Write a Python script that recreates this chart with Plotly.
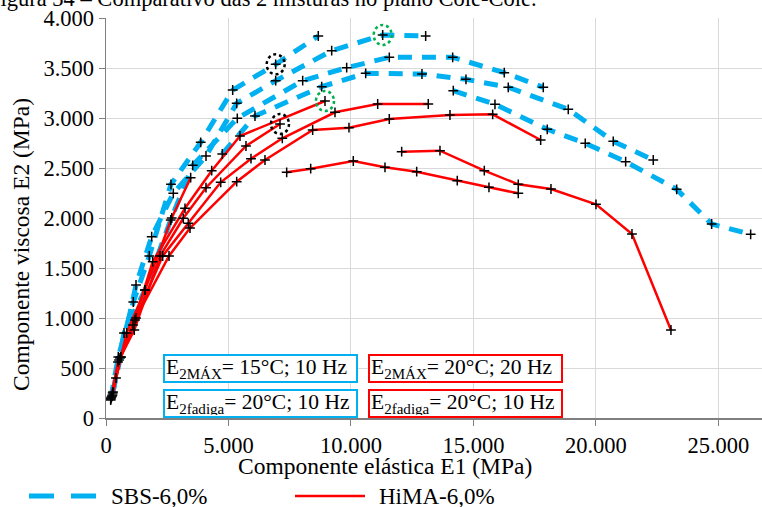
import plotly.graph_objects as go

# ---------------- data (E1, E2 in MPa) ----------------
sbs_T_e1 = [192, 502, 1114, 1768, 2653, 3866, 5172, 6927, 8666]
sbs_T_e2 = [190, 610, 1160, 1620, 2337, 2757, 3280, 3537, 3820]

sbs_D_e1 = [273, 600, 1225, 1865, 2747, 4082, 5335, 6927, 9213, 11295, 13050]
sbs_D_e2 = [250, 610, 1330, 1813, 2247, 2620, 3147, 3373, 3673, 3830, 3820]

sbs_A_e1 = [286, 735, 1592, 2641, 3539, 5360, 8029, 9825, 11565, 14152, 16259, 17851]
sbs_A_e2 = [260, 850, 1280, 1980, 2527, 2997, 3373, 3503, 3607, 3607, 3453, 3307]

sbs_B_e1 = [4747, 6082, 8805, 10601, 12899, 14695, 16422, 18871, 20708, 22341]
sbs_B_e2 = [2640, 3020, 3313, 3447, 3440, 3387, 3307, 3087, 2767, 2580]

sbs_C_e1 = [14177, 15879, 18014, 19565, 21214, 23296, 24725, 26317]
sbs_C_e2 = [3273, 3137, 2887, 2747, 2563, 2287, 1940, 1837]

hima_0_e1 = [192, 408, 845, 1592, 2682, 3457]
hima_0_e2 = [180, 400, 850, 1280, 2000, 2403]

hima_1_e1 = [204, 490, 1102, 1906, 3225, 4315, 5470, 8940]
hima_1_e2 = [200, 560, 930, 1563, 2097, 2473, 2820, 3170]

hima_x_e1 = [225, 531, 1155, 2204, 3155, 4082, 5715, 7103]
hima_x_e2 = [210, 580, 880, 1620, 1997, 2303, 2720, 2940]

hima_2_e1 = [245, 571, 1184, 2314, 3360, 4682, 5919, 7197, 9348, 11091, 13156]
hima_2_e2 = [220, 600, 980, 1620, 1947, 2357, 2593, 2797, 3057, 3140, 3140]

hima_3_e1 = [265, 612, 1225, 2572, 3429, 5335, 6490, 8437, 9919, 11565, 14042, 15785, 17744]
hima_3_e2 = [230, 610, 1000, 1620, 1900, 2363, 2580, 2880, 2903, 2990, 3030, 3037, 2780]

hima_5_e1 = [7376, 8356, 10095, 11389, 12683, 14340, 15634, 16830]
hima_5_e2 = [2457, 2493, 2570, 2507, 2463, 2373, 2307, 2247]

hima_6_e1 = [12070, 13634, 15443, 16830, 18165, 20002, 21472, 23063]
hima_6_e2 = [2663, 2673, 2473, 2337, 2290, 2137, 1840, 880]

# highlighted points: (E1, E2)
e2max_pts = [(6927, 3537), (7103, 2940)]
e2fad_pts = [(11295, 3830), (8940, 3170)]

x_ticks = [0, 5000, 10000, 15000, 20000, 25000]
y_ticks = [0, 500, 1000, 1500, 2000, 2500, 3000, 3500, 4000]

BLUE = "#00B0F0"
RED = "#FF0000"
FONT = "Liberation Serif, Times New Roman, serif"

# plot-area geometry (pixels) used to place paper-referenced decorations
L, T, W, H = 106, 18, 656, 400
def px(xp):
    return (xp - L) / W
def py(yp):
    return (T + H - yp) / H

sbs = [(sbs_T_e1, sbs_T_e2), (sbs_D_e1, sbs_D_e2), (sbs_A_e1, sbs_A_e2),
       (sbs_B_e1, sbs_B_e2), (sbs_C_e1, sbs_C_e2)]
hima = [(hima_0_e1, hima_0_e2), (hima_1_e1, hima_1_e2), (hima_x_e1, hima_x_e2),
        (hima_2_e1, hima_2_e2), (hima_3_e1, hima_3_e2), (hima_5_e1, hima_5_e2),
        (hima_6_e1, hima_6_e2)]

fig = go.Figure()
for i, (x, y) in enumerate(sbs):
    fig.add_trace(go.Scatter(x=x, y=y, mode="lines", name="SBS-6,0%",
                             legendgroup="sbs", showlegend=False,
                             line=dict(color=BLUE, width=5, dash="14px,10px")))
for i, (x, y) in enumerate(hima):
    fig.add_trace(go.Scatter(x=x, y=y, mode="lines", name="HiMA-6,0%",
                             legendgroup="hima", showlegend=False,
                             line=dict(color=RED, width=2.5)))
for x, y in sbs + hima:
    fig.add_trace(go.Scatter(x=x, y=y, mode="markers", showlegend=False,
                             hoverinfo="skip",
                             marker=dict(symbol="cross-thin", size=7,
                                         line=dict(color="black", width=1.5))))

shapes = []
for (cx, cy), col in [(p, "black") for p in e2max_pts] + [(p, "#00B050") for p in e2fad_pts]:
    shapes.append(dict(type="circle", xref="x", yref="y", xsizemode="pixel", ysizemode="pixel",
                       xanchor=cx, yanchor=cy, x0=-9, x1=9, y0=-10, y1=10,
                       line=dict(color=col, width=2.5, dash="dot")))

# legend (drawn as samples + labels below the axis title)
shapes.append(dict(type="line", xref="paper", yref="paper", x0=px(29), x1=px(96),
                   y0=py(496), y1=py(496), line=dict(color=BLUE, width=5, dash="25px,17px")))
shapes.append(dict(type="line", xref="paper", yref="paper", x0=px(295), x1=px(365),
                   y0=py(496), y1=py(496), line=dict(color=RED, width=2.5)))

annotations = [
    dict(text="SBS-6,0%", xref="paper", yref="paper", x=px(109), y=py(496),
         xanchor="left", yanchor="middle", showarrow=False,
         font=dict(family=FONT, size=23, color="black")),
    dict(text="HiMA-6,0%", xref="paper", yref="paper", x=px(377), y=py(496),
         xanchor="left", yanchor="middle", showarrow=False,
         font=dict(family=FONT, size=23, color="black")),
    dict(text="Componente elástica E1 (MPa)", xref="paper", yref="paper", x=px(385), y=py(466),
         xanchor="center", yanchor="middle", showarrow=False,
         font=dict(family=FONT, size=23.5, color="black")),
    dict(text="Componente viscosa E2 (MPa)", xref="paper", yref="paper", x=px(21), y=py(245),
         xanchor="center", yanchor="middle", showarrow=False, textangle=-90,
         font=dict(family=FONT, size=23.5, color="black")),
    dict(text="Figura 34 – Comparativo das 2 misturas no plano Cole-Cole.",
         xref="paper", yref="paper", x=px(539), y=py(13),
         xanchor="right", yanchor="bottom", showarrow=False,
         font=dict(family=FONT, size=22.5, color="black")),
]
boxes = [
    ("E<sub>2MÁX</sub>= 15°C; 10 Hz", 6327, 495, BLUE),
    ("E<sub>2fadiga</sub>= 20°C; 10 Hz", 6327, 150, BLUE),
    ("E<sub>2MÁX</sub>= 20°C; 20 Hz", 14675, 495, RED),
    ("E<sub>2fadiga</sub>= 20°C; 10 Hz", 14675, 150, RED),
]
for txt, bx, by, col in boxes:
    annotations.append(dict(text=txt, x=bx, y=by, xref="x", yref="y", showarrow=False,
                            xanchor="center", yanchor="middle", align="left",
                            width=189, height=23, borderpad=1, borderwidth=2,
                            bordercolor=col, bgcolor="white",
                            font=dict(family=FONT, size=21.5, color="black")))

fig.update_layout(
    width=762, height=507,
    margin=dict(l=L, r=0, t=T, b=507 - T - H, autoexpand=False),
    paper_bgcolor="white", plot_bgcolor="white",
    separators=",.",
    font=dict(family=FONT, size=22, color="black"),
    showlegend=False, hovermode=False,
    shapes=shapes, annotations=annotations,
)
fig.update_xaxes(range=[0, 26780], tickvals=x_ticks, tickformat=",.0f", automargin=False,
                 showgrid=True, gridcolor="#D9D9D9", gridwidth=1,
                 showline=True, linecolor="#808080", linewidth=1.5,
                 ticks="outside", ticklen=6, tickcolor="#808080",
                 tickfont=dict(family=FONT, size=22.5), zeroline=False)
fig.update_yaxes(range=[0, 4000], tickvals=y_ticks, tickformat=",.0f", automargin=False,
                 showgrid=True, gridcolor="#D9D9D9", gridwidth=1,
                 showline=True, linecolor="#808080", linewidth=1.5,
                 ticks="outside", ticklen=6, tickcolor="#808080",
                 tickfont=dict(family=FONT, size=22.5), zeroline=False)

fig.write_html("out.html", config={"displayModeBar": False, "staticPlot": True},
               post_script="document.body.style.margin='0';document.body.style.overflow='hidden';")
